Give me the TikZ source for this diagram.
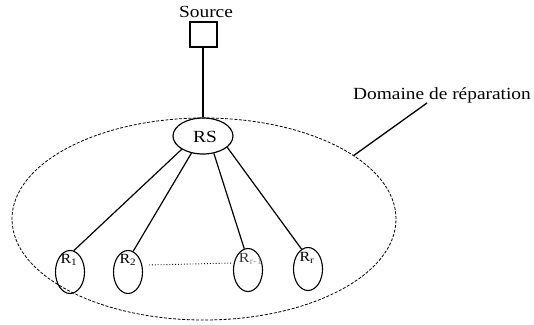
\documentclass[tikz,border=0pt]{standalone}
\usepackage{fontspec}
\usepackage{graphicx}
\setmainfont{Liberation Serif}
\usetikzlibrary{shapes.geometric}
% slightly widened serif lettering
\newcommand{\wide}[1]{\scalebox{1.14}[1]{#1}}
\tikzset{
  lbl/.style={inner sep=0pt, font=\fontsize{17}{20}\selectfont},
  sublbl/.style={inner sep=0pt, font=\fontsize{14}{16}\selectfont},
  member/.style={draw, ellipse, line width=1.1pt, minimum width=29pt, minimum height=43pt, inner sep=0pt},
  link/.style={line width=1.2pt},
}
\begin{document}
\begin{tikzpicture}[x=1pt, y=-1pt]
  \useasboundingbox (0,0) rectangle (534,324);
  % repair domain
  \node[draw, ellipse, dash pattern=on 3pt off 1.6pt, line width=0.8pt,
        minimum width=384pt, minimum height=202pt, inner sep=0pt] (big) at (204,219) {};
  % source
  \node[lbl] (srclbl) at (206,12) {\wide{Source}};
  \node[draw, line width=2pt, minimum width=27pt, minimum height=25pt, inner sep=0pt] (src) at (203,34) {};
  % relay
  \node[draw, ellipse, line width=1.2pt, minimum width=60pt, minimum height=36pt, inner sep=0pt] (rs) at (203,136) {};
  \node[lbl] (rslbl) at (205,137) {\wide{RS}};
  % receivers
  \node[member] (r1) at (70,272) {};
  \node[member] (r2) at (128,272) {};
  \node[member] (rm) at (248,270) {};
  \node[member] (rr) at (308,269) {};
  \node[sublbl] (r1l) at (69,260) {\wide{R\textsubscript{1}}};
  \node[sublbl] (r2l) at (128,260) {\wide{R\textsubscript{2}}};
  \node[sublbl, text=black!80] (rml) at (251,259) {\wide{R\textsubscript{\textcolor{black!40}{r-1}}}};
  \node[sublbl] (rrl) at (307,258) {\wide{R\textsubscript{r}}};
  % links
  \draw[link] (src) -- (rs);
  \draw[link] (rs.212) -- (r1.80);
  \draw[link] (rs.236) -- (r2.76);
  \draw[link] (rs.302) -- (rm.100);
  \draw[link] (rs.335) -- (rr.108);
  \draw[dotted, line width=0.9pt] ([xshift=6pt,yshift=7pt]r2.east) -- ([yshift=7pt]rm.west);
  % domain label
  \node[lbl] (dom) at (442,95) {\wide{Domaine de réparation}};
  \coordinate (tip) at (427,103);
  \draw[line width=1.3pt] (big.23) -- (tip);
\end{tikzpicture}
\end{document}
